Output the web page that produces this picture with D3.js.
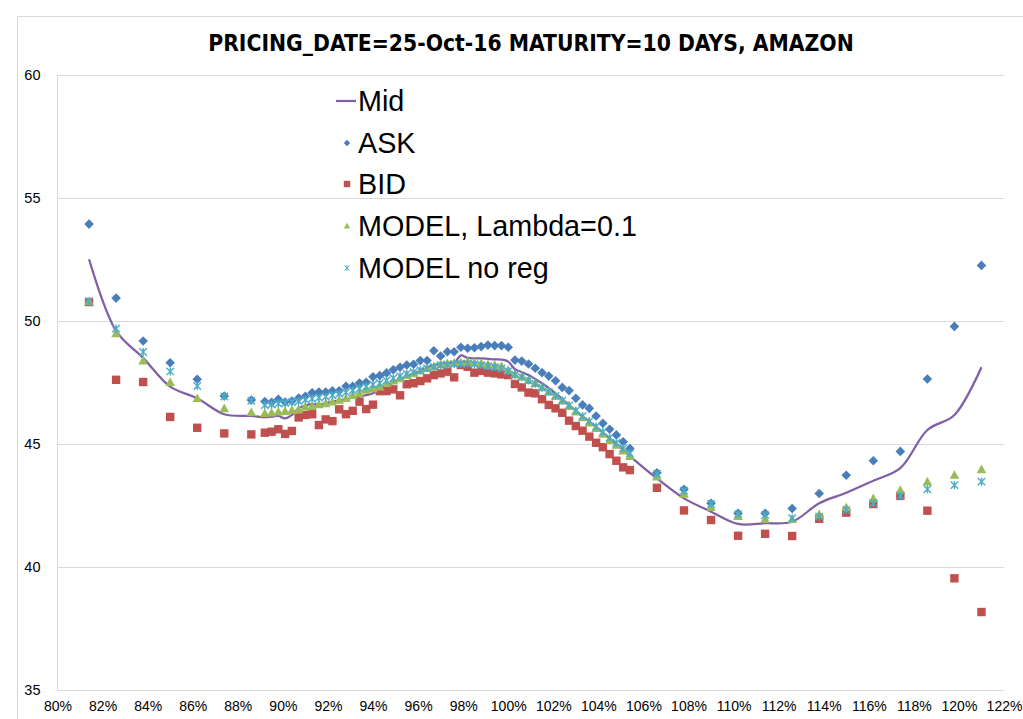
<!DOCTYPE html>
<html>
<head>
<meta charset="utf-8">
<script src="https://cdn.jsdelivr.net/npm/d3@7"></script>
<style>
  body { margin: 0; background: #fff; }
  svg { font-family: "Liberation Sans", Arial, sans-serif; }
</style>
</head>
<body>
<div id="plot"></div>
<script>
// strikes as % of spot
const strikes = [81.4, 82.6, 83.8, 85.0, 86.2, 87.4, 88.6,
  89.2, 89.5, 89.8, 90.1, 90.4, 90.7, 91.0, 91.3, 91.6, 91.9, 92.2, 92.5, 92.8, 93.1, 93.4, 93.7,
  94.0, 94.3, 94.6, 94.9, 95.2, 95.5, 95.8, 96.1, 96.4, 96.7, 97.0, 97.3, 97.6, 97.9, 98.2, 98.5,
  98.8, 99.1, 99.4, 99.7, 100.0, 100.3, 100.6, 100.9, 101.2, 101.5, 101.8, 102.1, 102.4, 102.7,
  103.0, 103.3, 103.6, 103.9, 104.2, 104.5, 104.8, 105.1, 105.4,
  106.6, 107.8, 109.0, 110.2, 111.4, 112.6, 113.8, 115.0, 116.2, 117.4, 118.6, 119.8, 121.0];

const midVals = [52.51, 49.60, 48.50, 47.33, 46.86, 46.21, 46.14,
  46.09, 46.11, 46.14, 46.04, 46.18, 46.45, 46.56, 46.63, 46.59, 46.66, 46.72, 46.77, 46.82, 46.88, 46.93, 46.99,
  47.06, 47.26, 47.38, 47.49, 47.62, 47.76, 47.87, 47.98, 48.10, 48.21, 48.26, 48.30, 48.30, 48.60, 48.50, 48.48,
  48.48, 48.46, 48.44, 48.43, 48.35, 48.04, 47.92, 47.80, 47.64, 47.47, 47.27, 47.06, 46.83, 46.59,
  46.35, 46.11, 45.91, 45.70, 45.46, 45.23, 44.99, 44.76, 44.51,
  43.60, 42.79, 42.25, 41.75, 41.78, 41.84, 42.59, 43.02, 43.51, 44.02, 45.57, 46.18, 48.12];

const askVals = [53.94, 50.93, 49.19, 48.30, 47.63, 46.95, 46.79,
  46.73, 46.70, 46.82, 46.71, 46.75, 46.87, 46.94, 47.08, 47.11, 47.11, 47.16, 47.16, 47.35, 47.35, 47.48, 47.51,
  47.73, 47.78, 47.89, 48.02, 48.12, 48.21, 48.24, 48.39, 48.39, 48.79, 48.58, 48.75, 48.75, 48.93, 48.89, 48.91,
  48.96, 49.02, 49.00, 49.00, 48.93, 48.41, 48.37, 48.25, 48.08, 47.90, 47.76, 47.57, 47.30, 47.17,
  46.86, 46.59, 46.45, 46.14, 45.84, 45.60, 45.37, 45.09, 44.82,
  43.83, 43.16, 42.59, 42.18, 42.18, 42.38, 42.99, 43.73, 44.32, 44.70, 47.64, 49.78, 52.26];

const bidVals = [50.77, 47.61, 47.52, 46.10, 45.66, 45.43, 45.39,
  45.46, 45.50, 45.60, 45.41, 45.53, 46.08, 46.18, 46.21, 45.77, 46.00, 45.93, 46.41, 46.21, 46.35, 46.72, 46.42,
  46.60, 47.15, 47.15, 47.22, 46.98, 47.43, 47.47, 47.56, 47.67, 47.80, 47.87, 47.94, 47.71, 48.21, 48.14, 47.90,
  47.97, 47.90, 47.87, 47.83, 47.80, 47.44, 47.30, 47.09, 47.06, 46.82, 46.59, 46.45, 46.27, 45.95,
  45.73, 45.54, 45.30, 45.05, 44.87, 44.59, 44.32, 44.05, 43.94,
  43.22, 42.30, 41.91, 41.27, 41.35, 41.26, 41.96, 42.21, 42.56, 42.89, 42.29, 39.54, 38.17];

const modelVals = [50.80, 49.50, 48.39, 47.51, 46.86, 46.45, 46.29,
  46.25, 46.27, 46.31, 46.34, 46.38, 46.42, 46.52, 46.54, 46.61, 46.65, 46.72, 46.79, 46.86, 46.99, 47.06, 47.20,
  47.26, 47.33, 47.47, 47.57, 47.67, 47.80, 47.87, 47.98, 48.08, 48.14, 48.24, 48.28, 48.30, 48.32, 48.35, 48.32,
  48.28, 48.24, 48.21, 48.17, 48.01, 47.83, 47.74, 47.60, 47.47, 47.30, 47.13, 46.95, 46.76, 46.54,
  46.31, 46.08, 45.87, 45.64, 45.41, 45.16, 44.96, 44.73, 44.51,
  43.67, 42.97, 42.43, 42.07, 41.94, 41.94, 42.14, 42.43, 42.79, 43.13, 43.47, 43.74, 43.97];

const noRegVals = [50.80, 49.69, 48.74, 47.95, 47.36, 46.93, 46.76,
  46.58, 46.60, 46.64, 46.66, 46.70, 46.74, 46.80, 46.84, 46.88, 46.92, 46.98, 47.04, 47.10, 47.18, 47.25, 47.34,
  47.42, 47.48, 47.58, 47.67, 47.76, 47.85, 47.92, 48.00, 48.08, 48.14, 48.20, 48.23, 48.25, 48.26, 48.26, 48.24,
  48.20, 48.16, 48.12, 48.07, 47.96, 47.82, 47.72, 47.58, 47.45, 47.29, 47.12, 46.95, 46.77, 46.57,
  46.36, 46.14, 45.93, 45.71, 45.49, 45.26, 45.05, 44.83, 44.62,
  43.78, 43.10, 42.56, 42.15, 42.11, 41.98, 42.05, 42.32, 42.59, 42.89, 43.16, 43.33, 43.47];

const xTicks = [80, 82, 84, 86, 88, 90, 92, 94, 96, 98, 100, 102, 104, 106, 108, 110, 112, 114, 116, 118, 120, 122];
const yTicks = [35, 40, 45, 50, 55, 60];
const legendNames = ["Mid", "ASK", "BID", "MODEL, Lambda=0.1", "MODEL no reg"];

const W = 1023, H = 719;
const svg = d3.select("#plot").append("svg").attr("width", W).attr("height", H);

// chart border (only top/left visible in the crop)
svg.append("rect").attr("x", 17.5).attr("y", 16.5).attr("width", 1100).attr("height", 800)
  .attr("fill", "#fff").attr("stroke", "#d9d9d9");

const x = d3.scaleLinear().domain([80, 122]).range([57.5, 1004]);
const y = d3.scaleLinear().domain([35, 60]).range([690, 75]);

// shrink/grow a text node to a target width
function fitWidth(sel, w) {
  const len = sel.node().getComputedTextLength();
  const fs = parseFloat(sel.style("font-size"));
  sel.style("font-size", (fs * w / len) + "px");
}

// gridlines + y labels
const yAxis = svg.append("g").attr("transform", `translate(${x(80)},0)`)
  .call(d3.axisLeft(y).tickValues(yTicks).tickSize(-(x(122) - x(80))).tickPadding(17));
yAxis.select(".domain").remove();
yAxis.selectAll("line").attr("stroke", "#d9d9d9");
yAxis.selectAll("text").style("font-size", "14.5px").attr("fill", "#000");

// left axis line
svg.append("line").attr("x1", x(80)).attr("x2", x(80)).attr("y1", y(60)).attr("y2", y(35))
  .attr("stroke", "#d9d9d9");

const xAxis = svg.append("g").attr("transform", `translate(0,${y(35)})`)
  .call(d3.axisBottom(x).tickValues(xTicks).tickSize(0).tickPadding(11).tickFormat(d => d + "%"));
xAxis.select(".domain").remove();
xAxis.selectAll("text").style("font-size", "14px").attr("fill", "#000");

// title
const title = svg.append("text").attr("x", 531).attr("y", 51).attr("text-anchor", "middle")
  .style("font-family", "'Liberation Sans Narrow', 'DejaVu Sans Condensed', 'Liberation Sans', sans-serif")
  .style("font-weight", "bold").style("font-size", "24px")
  .text("PRICING_DATE=25-Oct-16 MATURITY=10 DAYS, AMAZON");
fitWidth(title, 646);

const pts = strikes.map((s, i) => ({ s, mid: midVals[i], ask: askVals[i], bid: bidVals[i], model: modelVals[i], noreg: noRegVals[i] }));

// marker shapes
const diamond = r => `M0,${-r}L${r},0L0,${r}L${-r},0Z`;
const square = r => `M${-r},${-r}H${r}V${r}H${-r}Z`;
const triangle = r => `M0,${-r}L${r},${r * 0.8}L${-r},${r * 0.8}Z`;
const star = r => `M${-r},${-r}L${r},${r}M${-r},${r}L${r},${-r}M0,${-r * 1.1}V${r * 1.1}`;

const colors = { mid: "#7f5fa6", ask: "#4a7ebb", bid: "#c0504d", model: "#9bbb59", noreg: "#4bacc6" };

// Mid line
svg.append("path").datum(pts)
  .attr("fill", "none").attr("stroke", colors.mid).attr("stroke-width", 2.25)
  .attr("d", d3.line().x(d => x(d.s)).y(d => y(d.mid)).curve(d3.curveCatmullRom));

function markers(key, shape, r, filled) {
  svg.append("g").selectAll("path").data(pts).enter().append("path")
    .attr("transform", d => `translate(${x(d.s)},${y(d[key])})`)
    .attr("d", shape(r))
    .attr("fill", filled ? colors[key] : "none")
    .attr("stroke", filled ? "none" : colors[key])
    .attr("stroke-width", filled ? 0 : 1.4);
}
markers("ask", diamond, 4.8, true);
markers("bid", square, 4.2, true);
markers("model", triangle, 4.8, true);
markers("noreg", star, 3.7, false);

// legend
const legY = [101, 143, 184, 226, 268];
const legKeys = ["mid", "ask", "bid", "model", "noreg"];
const legShapes = [null, diamond, square, triangle, star];
const leg = svg.append("g");
const legTexts = [];
legendNames.forEach((name, i) => {
  const g = leg.append("g").attr("transform", `translate(0,${legY[i]})`);
  if (i === 0) {
    g.append("line").attr("x1", 336).attr("x2", 356).attr("stroke", colors.mid).attr("stroke-width", 2.25);
  } else {
    g.append("path").attr("transform", "translate(347,0)").attr("d", legShapes[i](i === 4 ? 2.6 : 3.2))
      .attr("fill", i === 4 ? "none" : colors[legKeys[i]])
      .attr("stroke", i === 4 ? colors.noreg : "none").attr("stroke-width", 1);
  }
  legTexts.push(g.append("text").attr("x", 358).attr("dy", "0.36em").style("font-size", "24px").text(name));
});
// size legend font so the longest entry matches
const longest = legTexts[3];
fitWidth(longest, 279);
const lfs = longest.style("font-size");
legTexts.forEach(t => t.style("font-size", lfs));
</script>
</body>
</html>
